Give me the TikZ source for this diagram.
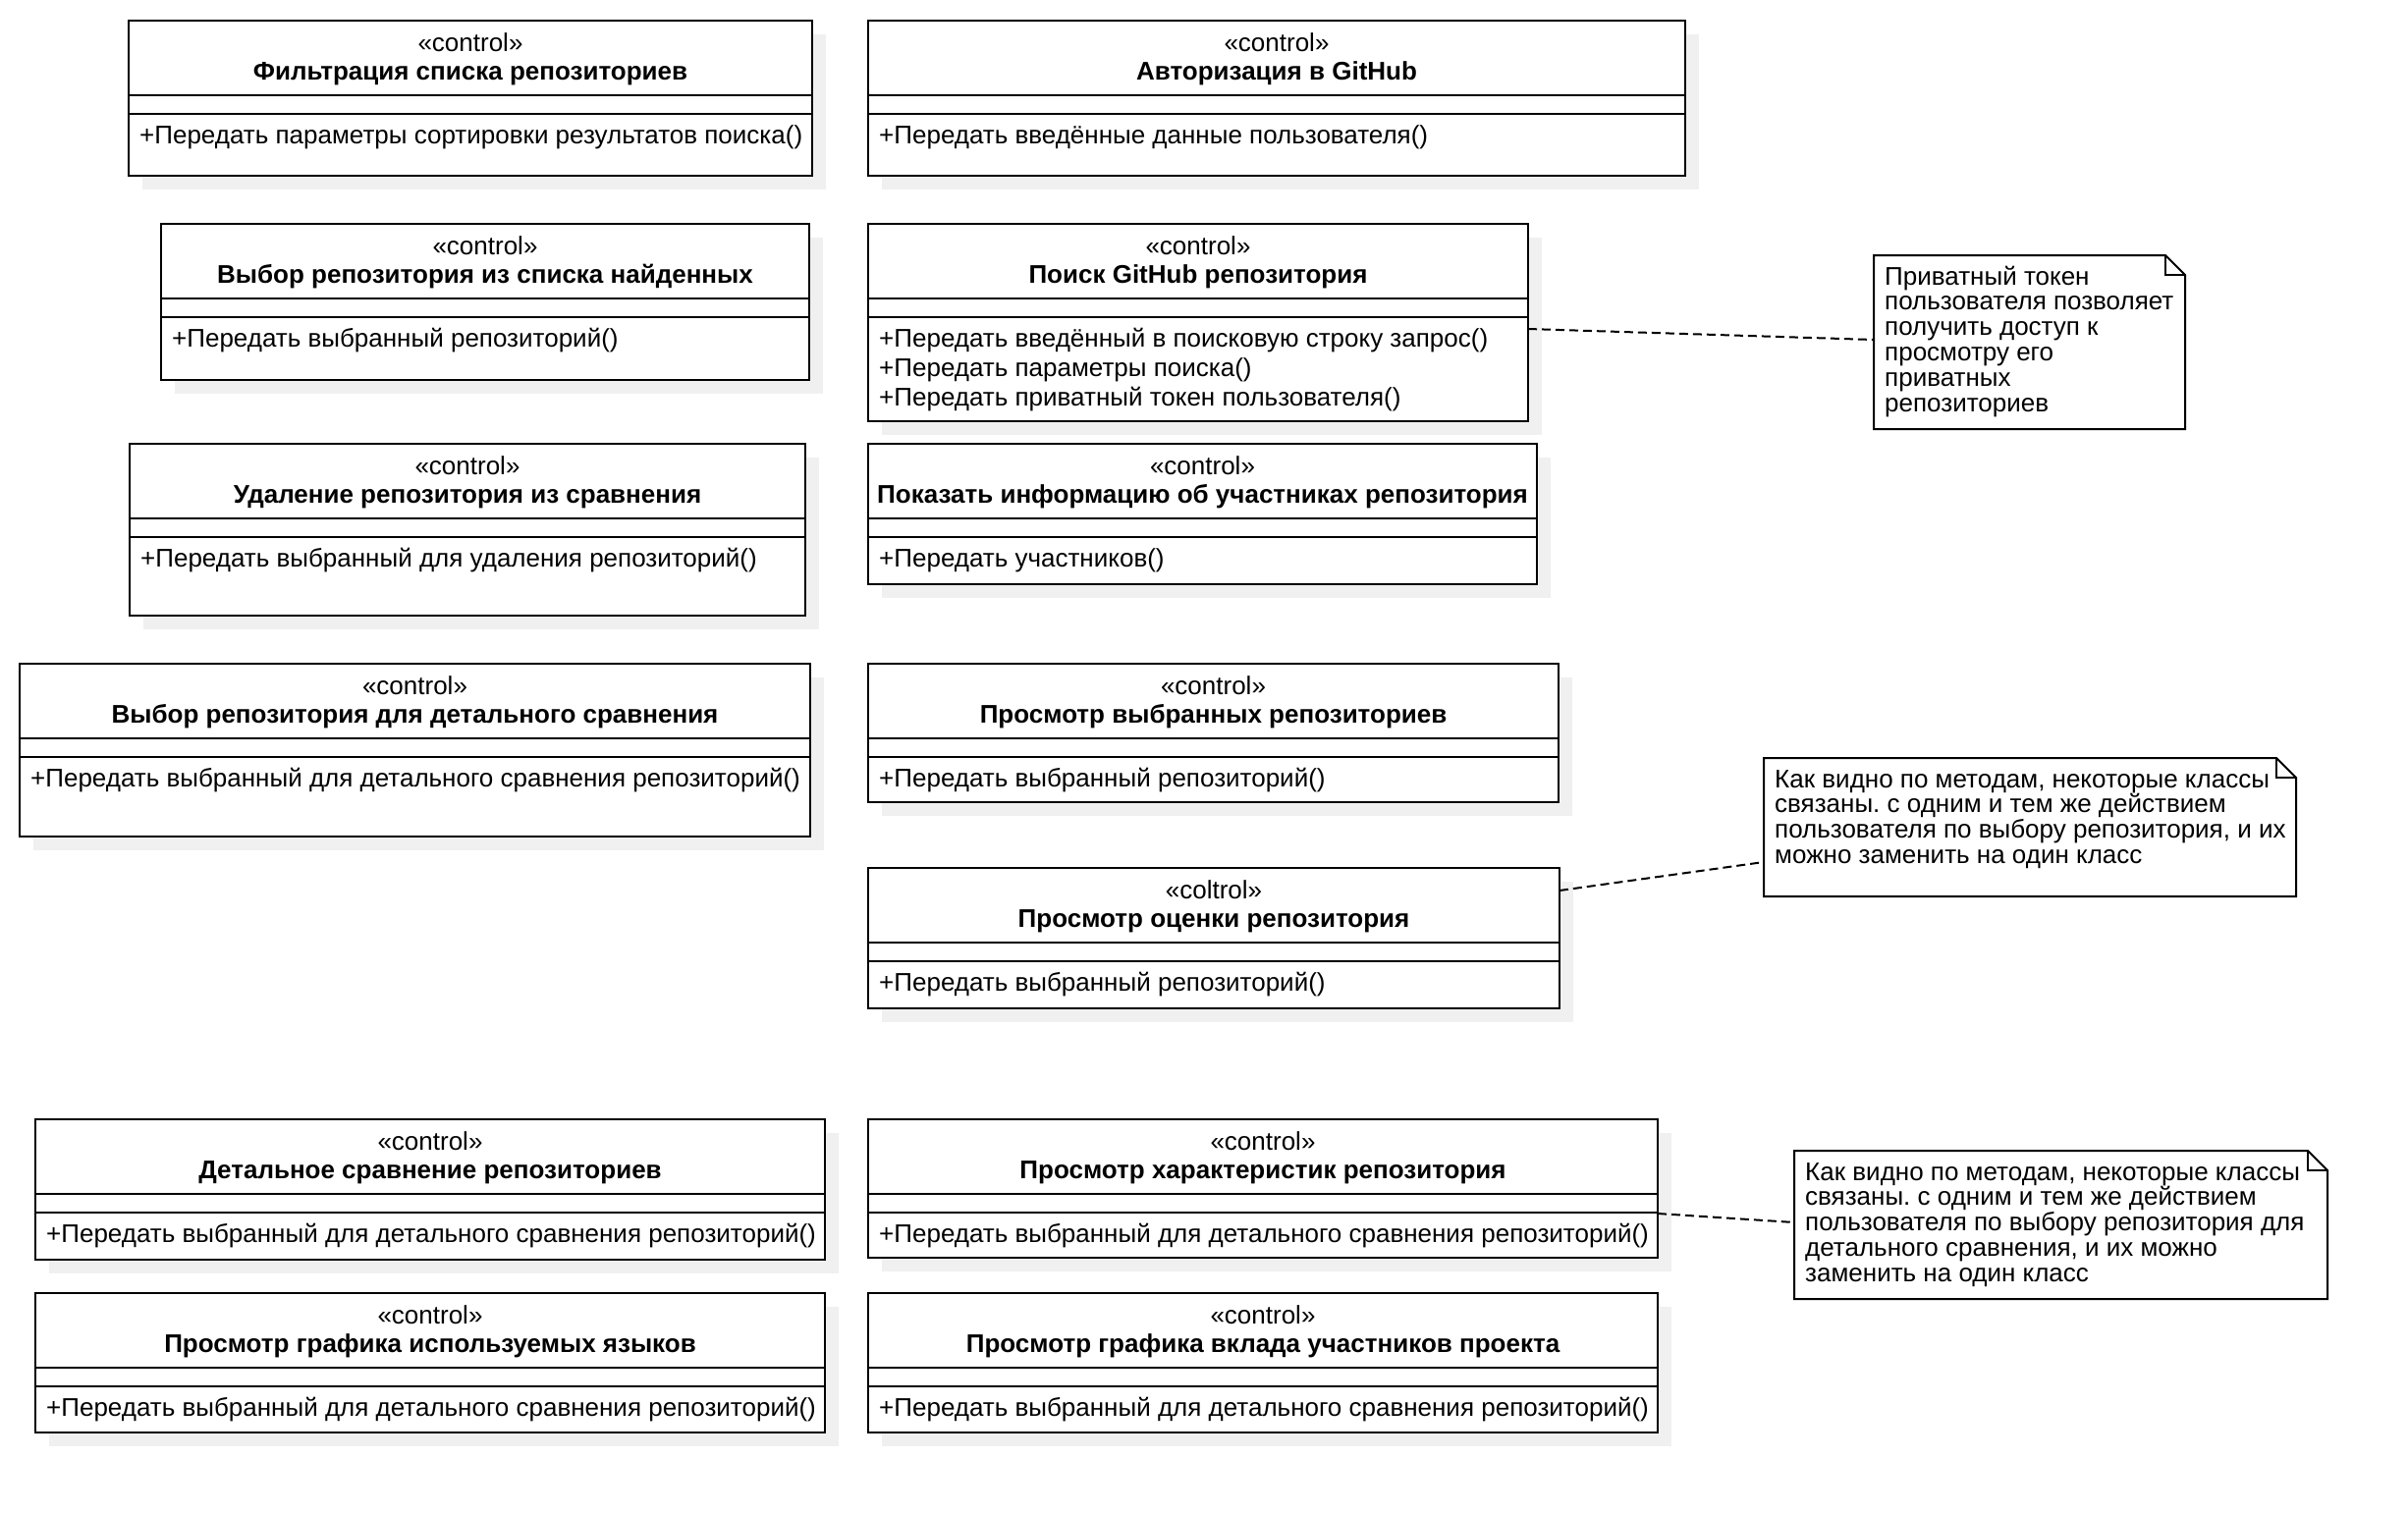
\documentclass[tikz,border=0pt]{standalone}
\usepackage{fontspec}
\setmainfont{Liberation Sans}
\definecolor{shadowc}{HTML}{F0F0F0}
\tikzset{
  umlbox/.style={draw=black, line width=2pt, fill=white, rectangle, inner sep=0pt, outer sep=0pt, anchor=north west},
  sepline/.style={line width=2pt},
  txt/.style={font=\fontsize{26}{28.5}\selectfont\frenchspacing, inner sep=0pt},
  ttl/.style={font=\fontsize{26}{28.5}\selectfont\bfseries\frenchspacing, inner sep=0pt},
  notebox/.style={rectangle, inner sep=0pt, outer sep=0pt, anchor=north west},
  noteline/.style={line width=2pt, line join=miter},
  link/.style={line width=2pt, dash pattern=on 9pt off 5pt},
}
\newcommand{\ucls}[8]{%
  \fill[shadowc] (#2+14,#3+14) rectangle (#4+14,#5+14);
  \node[umlbox, minimum width={(#4-#2)*1pt}, minimum height={(#5-#3)*1pt}] (#1) at (#2,#3) {};
  \draw[sepline] ([yshift=-76pt]#1.north west) -- ([yshift=-76pt]#1.north east);
  \draw[sepline] ([yshift=-95pt]#1.north west) -- ([yshift=-95pt]#1.north east);
  \node[txt, anchor=base] (#1-s) at ([yshift=-31pt]#1.north) {«#6»};
  \node[ttl, anchor=base] (#1-t) at ([yshift=-60pt]#1.north) {#7};
  \foreach \m [count=\i] in {#8} {\node[txt, anchor=base west] (#1-m\i) at ([xshift=11pt,yshift={-125pt-(\i-1)*30pt}]#1.north west) {\m};}
}
\newcommand{\unote}[6]{%
  \node[notebox, minimum width={(#4-#2)*1pt}, minimum height={(#5-#3)*1pt}] (#1) at (#2,#3) {};
  \draw[noteline, fill=white] (#1.north west) -- ([xshift=-20pt]#1.north east) -- ([yshift=-20pt]#1.north east) -- (#1.south east) -- (#1.south west) -- cycle;
  \draw[noteline] ([xshift=-20pt]#1.north east) -- ([xshift=-20pt,yshift=-20pt]#1.north east) -- ([yshift=-20pt]#1.north east);
  \foreach \l [count=\i] in {#6} {\node[txt, anchor=base west] (#1-l\i) at ([xshift=11pt,yshift={-30pt-(\i-1)*25.8pt}]#1.north west) {\l};}
}
\begin{document}
\frenchspacing
\begin{tikzpicture}[x=1pt,y=-1pt]
\useasboundingbox (0,0) rectangle (2452,1540);
\fill[white] (0,0) rectangle (2452,1540);

\ucls{filter}{131}{21}{827}{179}{control}{Фильтрация списка репозиториев}{+Передать параметры сортировки результатов поиска()}
\ucls{auth}{884}{21}{1716}{179}{control}{Авторизация в GitHub}{+Передать введённые данные пользователя()}
\ucls{choose}{164}{228}{824}{387}{control}{Выбор репозитория из списка найденных}{+Передать выбранный репозиторий()}
\ucls{search}{884}{228}{1556}{429}{control}{Поиск GitHub репозитория}{+Передать введённый в поисковую строку запрос(),+Передать параметры поиска(),+Передать приватный токен пользователя()}
\ucls{remove}{132}{452}{820}{627}{control}{Удаление репозитория из сравнения}{+Передать выбранный для удаления репозиторий()}
\ucls{members}{884}{452}{1565}{595}{control}{Показать информацию об участниках репозитория}{+Передать участников()}
\ucls{detsel}{20}{676}{825}{852}{control}{Выбор репозитория для детального сравнения}{+Передать выбранный для детального сравнения репозиторий()}
\ucls{viewsel}{884}{676}{1587}{817}{control}{Просмотр выбранных репозиториев}{+Передать выбранный репозиторий()}
\ucls{rating}{884}{884}{1588}{1027}{coltrol}{Просмотр оценки репозитория}{+Передать выбранный репозиторий()}
\ucls{detcmp}{36}{1140}{840}{1283}{control}{Детальное сравнение репозиториев}{+Передать выбранный для детального сравнения репозиторий()}
\ucls{chars}{884}{1140}{1688}{1281}{control}{Просмотр характеристик репозитория}{+Передать выбранный для детального сравнения репозиторий()}
\ucls{langs}{36}{1317}{840}{1459}{control}{Просмотр графика используемых языков}{+Передать выбранный для детального сравнения репозиторий()}
\ucls{contrib}{884}{1317}{1688}{1459}{control}{Просмотр графика вклада участников проекта}{+Передать выбранный для детального сравнения репозиторий()}

\unote{n1}{1908}{260}{2225}{437}{Приватный токен,пользователя позволяет,получить доступ к,просмотру его,приватных,репозиториев}
\unote{n2}{1796}{772}{2338}{913}{{Как видно по методам, некоторые классы},{связаны. с одним и тем же действием},{пользователя по выбору репозитория, и их},{можно заменить на один класс}}
\unote{n3}{1827}{1172}{2370}{1323}{{Как видно по методам, некоторые классы},{связаны. с одним и тем же действием},{пользователя по выбору репозитория для},{детального сравнения, и их можно},{заменить на один класс}}

\draw[link] ([yshift=-6.5pt]search.east) -- ([yshift=2.5pt]n1.west);
\draw[link] ([yshift=48.5pt]rating.east) -- ([yshift=-35.5pt]n2.west);
\draw[link] ([yshift=-25.5pt]chars.east) -- ([yshift=2.5pt]n3.west);
\end{tikzpicture}
\end{document}
